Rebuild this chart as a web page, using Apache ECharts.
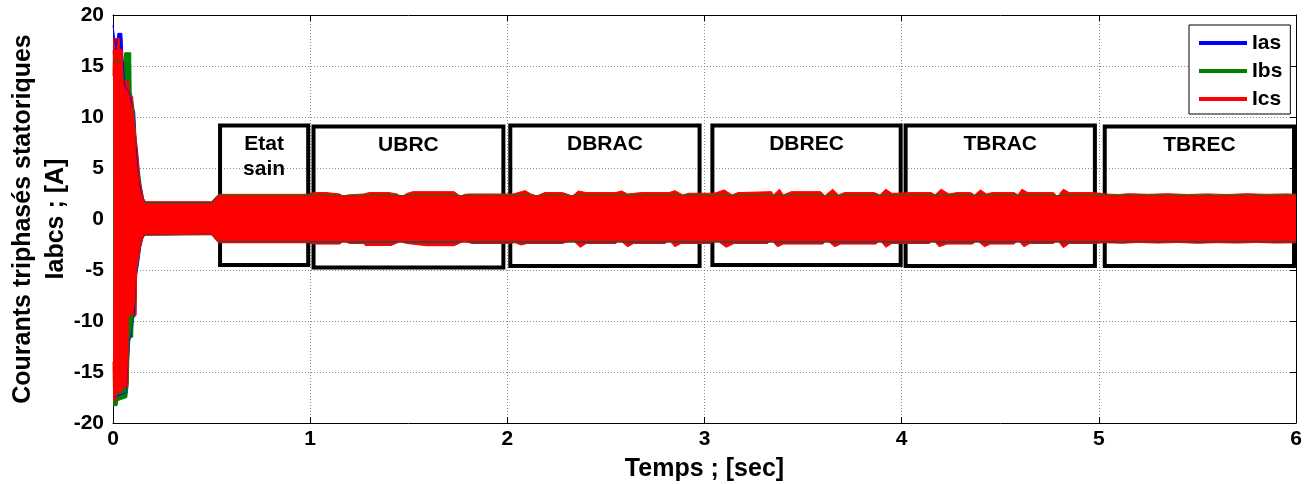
<!DOCTYPE html>
<html>
<head>
<meta charset="utf-8">
<script src="https://cdn.jsdelivr.net/npm/echarts@6/dist/echarts.min.js"></script>
<style>
  html, body { margin: 0; padding: 0; background: #fff; }
  #chart { width: 1315px; height: 484px; }
</style>
</head>
<body>
<div id="chart"></div>
<script>
// Stator phase currents: upper / lower envelopes of each phase, [time (s), current (A)]
const iasUpper = [[0, 19.0], [0.01, 19.0], [0.015, 16.6], [0.02, 16.6], [0.025, 18.2], [0.045, 18.2], [0.05, 16.0], [0.06, 13.0], [0.08, 12.5], [0.1, 11.0], [0.11, 10.5], [0.12, 6.5], [0.13, 4.5], [0.14, 3.0], [0.155, 1.9], [0.165, 1.6], [0.5, 1.6], [0.535, 2.3], [6.0, 2.3]];
const iasLower = [[0, -17.5], [0.07, -17.0], [0.075, -15.0], [0.085, -12.0], [0.1, -10.5], [0.115, -8.0], [0.12, -5.5], [0.13, -4.3], [0.14, -2.8], [0.15, -2.0], [0.16, -1.55], [0.5, -1.5], [0.535, -2.25], [6.0, -2.25]];

const ibsUpper = [[0, 16.5], [0.005, 15.5], [0.055, 15.5], [0.06, 16.3], [0.09, 16.3], [0.092, 12.5], [0.105, 11.0], [0.115, 8.0], [0.125, 6.5], [0.135, 4.5], [0.145, 3.0], [0.155, 2.0], [0.165, 1.6], [0.5, 1.6], [0.535, 2.3], [6.0, 2.3]];
const ibsLower = [[0, -18.3], [0.02, -18.3], [0.025, -17.8], [0.07, -17.5], [0.078, -16.0], [0.082, -11.6], [0.1, -11.6], [0.102, -9.7], [0.115, -9.5], [0.12, -5.0], [0.13, -4.0], [0.14, -2.6], [0.15, -1.9], [0.16, -1.55], [0.5, -1.5], [0.535, -2.25], [6.0, -2.25]];

const icsUpper = [[0, 14.0], [0.003, 17.7], [0.032, 17.7], [0.034, 16.6], [0.047, 16.6], [0.05, 13.5], [0.08, 13.5], [0.082, 12.0], [0.1, 12.0], [0.102, 10.4], [0.112, 10.4], [0.12, 7.5], [0.127, 6.0], [0.135, 3.8], [0.145, 3.0], [0.155, 2.0], [0.165, 1.7], [0.5, 1.7], [0.51, 1.65], [0.535, 2.42], [0.99, 2.42],
  [1.02, 2.59], [1.08, 2.59], [1.15, 2.45], [1.169, 2.19], [1.19, 2.36], [1.2, 2.45], [1.27, 2.45], [1.3, 2.59], [1.4, 2.59], [1.44, 2.45], [1.465, 2.19], [1.49, 2.5], [1.52, 2.68], [1.73, 2.68], [1.75, 2.4], [1.762, 2.19], [1.78, 2.4], [1.8, 2.45], [1.96, 2.45], [2.03, 2.45],
  [2.04, 2.52], [2.09, 2.78], [2.12, 2.45], [2.15, 2.26], [2.19, 2.59], [2.28, 2.59], [2.33, 2.26], [2.36, 2.75], [2.4, 2.59], [2.55, 2.59], [2.58, 2.75], [2.61, 2.45], [2.68, 2.59], [2.82, 2.59], [2.85, 2.78], [2.89, 2.36], [2.92, 2.52], [2.95, 2.52],
  [3.05, 2.52], [3.1, 2.85], [3.14, 2.36], [3.17, 2.59], [3.34, 2.68], [3.35, 2.36], [3.38, 2.92], [3.4, 2.36], [3.44, 2.68], [3.59, 2.68], [3.61, 2.26], [3.65, 2.92], [3.68, 2.36], [3.71, 2.59], [3.86, 2.59], [3.89, 2.36], [3.92, 2.92], [3.95, 2.52], [3.98, 2.52],
  [4.04, 2.59], [4.15, 2.59], [4.17, 2.36], [4.2, 2.92], [4.24, 2.45], [4.28, 2.59], [4.35, 2.59], [4.37, 2.36], [4.4, 2.85], [4.43, 2.45], [4.46, 2.59], [4.57, 2.59], [4.59, 2.36], [4.61, 2.92], [4.64, 2.59], [4.77, 2.59], [4.79, 2.19], [4.82, 2.92], [4.85, 2.59], [4.97, 2.59],
  [5.03, 2.45], [5.1, 2.4], [5.15, 2.48], [5.25, 2.42], [5.35, 2.48], [5.45, 2.4], [5.55, 2.46], [5.65, 2.4], [5.75, 2.48], [5.85, 2.42], [5.95, 2.46], [6.0, 2.42]];
const icsLower = [[0, -14.0], [0.003, -17.8], [0.015, -17.8], [0.018, -17.0], [0.045, -17.0], [0.048, -16.5], [0.075, -16.5], [0.078, -9.4], [0.117, -9.4], [0.12, -4.8], [0.13, -3.8], [0.14, -2.6], [0.15, -1.9], [0.16, -1.6], [0.5, -1.55], [0.51, -1.55], [0.535, -2.33], [0.99, -2.33],
  [1.02, -2.46], [1.15, -2.46], [1.169, -2.17], [1.2, -2.4], [1.27, -2.4], [1.28, -2.6], [1.41, -2.6], [1.456, -2.23], [1.49, -2.4], [1.59, -2.62], [1.73, -2.62], [1.78, -2.17], [1.82, -2.4], [2.0, -2.4],
  [2.04, -2.33], [2.07, -2.55], [2.1, -2.4], [2.28, -2.4], [2.33, -2.05], [2.37, -2.78], [2.4, -2.4], [2.55, -2.4], [2.57, -2.05], [2.61, -2.72], [2.64, -2.4], [2.8, -2.4], [2.82, -2.05], [2.85, -2.72], [2.88, -2.4], [3.03, -2.4], [3.06, -2.05], [3.11, -2.78], [3.15, -2.4],
  [3.32, -2.4], [3.34, -2.05], [3.37, -2.72], [3.4, -2.46], [3.6, -2.46], [3.62, -2.05], [3.66, -2.72], [3.69, -2.46], [3.87, -2.46], [3.89, -2.05], [3.92, -2.78], [3.95, -2.4],
  [4.14, -2.4], [4.16, -2.05], [4.19, -2.72], [4.23, -2.46], [4.36, -2.46], [4.38, -2.05], [4.42, -2.72], [4.45, -2.46], [4.57, -2.46], [4.59, -2.05], [4.62, -2.72], [4.65, -2.4], [4.77, -2.4], [4.79, -2.05], [4.82, -2.82], [4.85, -2.4], [4.97, -2.4],
  [5.03, -2.33], [5.12, -2.38], [5.2, -2.3], [5.3, -2.36], [5.4, -2.3], [5.5, -2.38], [5.6, -2.32], [5.7, -2.36], [5.8, -2.3], [5.9, -2.36], [6.0, -2.33]];

// Operating-condition boxes: time span, current span and caption
const boxLabels = ['Etat\nsain', 'UBRC', 'DBRAC', 'DBREC', 'TBRAC', 'TBREC'];
const boxStart = [0.543, 1.017, 2.015, 3.04, 4.02, 5.03];
const boxEnd = [0.99, 1.98, 2.975, 3.995, 4.98, 5.99];
const boxTop = [9.17, 9.07, 9.17, 9.17, 9.17, 9.07];
const boxBottom = [-4.52, -4.75, -4.6, -4.52, -4.6, -4.6];

const phaseNames = ['Ias', 'Ibs', 'Ics'];
const phaseColors = ['#0000ff', '#008000', '#ff0000'];
const xTicks = { min: 0, max: 6, interval: 1 };
const yTicks = { min: -20, max: 20, interval: 5 };

const FONT = '"Liberation Sans", Arial, sans-serif';
const envelopes = [[iasUpper, iasLower], [ibsUpper, ibsLower], [icsUpper, icsLower]];

const series = [];
envelopes.forEach(function (pair, k) {
  pair.forEach(function (data, j) {
    series.push({
      name: phaseNames[k],
      type: 'line',
      data: data,
      showSymbol: false,
      symbol: 'none',
      silent: true,
      sampling: null,
      smooth: false,
      lineStyle: { color: phaseColors[k], width: 1 },
      itemStyle: { color: phaseColors[k] },
      areaStyle: { color: phaseColors[k], opacity: 1, origin: j === 0 ? -0.3 : 0.3 },
      z: 2
    });
  });
});

series.push({
  name: 'zones',
  type: 'line',
  data: [],
  silent: true,
  z: 5,
  markArea: {
    silent: true,
    itemStyle: { color: 'rgba(0,0,0,0)', borderColor: '#000', borderWidth: 4 },
    label: {
      show: true,
      position: 'insideTop',
      distance: 8,
      color: '#000',
      fontFamily: FONT,
      fontWeight: 'bold',
      fontSize: 21,
      lineHeight: 25,
      align: 'center'
    },
    data: boxLabels.map(function (name, i) {
      return [
        { name: name, xAxis: boxStart[i], yAxis: boxTop[i] },
        { xAxis: boxEnd[i], yAxis: boxBottom[i] }
      ];
    })
  }
});

const chart = echarts.init(document.getElementById('chart'), null, { renderer: 'canvas' });
const tickLabel = { color: '#000', fontFamily: FONT, fontWeight: 'bold', fontSize: 21 };
const axisBlack = { show: true, onZero: false, lineStyle: { color: '#000', width: 1 } };

chart.setOption({
  animation: false,
  backgroundColor: '#fff',
  grid: { left: 113, right: 19, top: 15, bottom: 61, containLabel: false, outerBoundsMode: 'none' },
  legend: {
    data: phaseNames.map(function (n, i) { return { name: n, itemStyle: { color: phaseColors[i] } }; }),
    orient: 'vertical',
    left: 1189,
    top: 25,
    icon: 'rect',
    itemWidth: 48,
    itemHeight: 4,
    itemGap: 4,
    itemTextGap: 5,
    padding: [6, 8, 3, 10],
    borderColor: '#000',
    borderWidth: 1,
    backgroundColor: '#fff',
    selectedMode: false,
    textStyle: { color: '#000', fontFamily: FONT, fontWeight: 'bold', fontSize: 21, lineHeight: 24 }
  },
  xAxis: [{
    type: 'value',
    min: xTicks.min, max: xTicks.max, interval: xTicks.interval,
    axisLine: axisBlack,
    axisTick: { show: true, inside: true, length: 6, lineStyle: { color: '#000' } },
    axisLabel: Object.assign({ margin: 6 }, tickLabel),
    splitLine: { show: true, lineStyle: { color: '#8c8c8c', type: [1, 2], width: 1 } },
    name: 'Temps ; [sec]',
    nameLocation: 'middle',
    nameGap: 34,
    nameMoveOverlap: false,
    nameTextStyle: { color: '#000', fontFamily: FONT, fontWeight: 'bold', fontSize: 25 }
  }, {
    type: 'value',
    position: 'top',
    min: xTicks.min, max: xTicks.max, interval: xTicks.interval,
    axisLine: axisBlack,
    axisTick: { show: true, inside: true, length: 6, lineStyle: { color: '#000' } },
    axisLabel: { show: false },
    splitLine: { show: false }
  }],
  yAxis: [{
    type: 'value',
    min: yTicks.min, max: yTicks.max, interval: yTicks.interval,
    axisLine: axisBlack,
    axisTick: { show: true, inside: true, length: 6, lineStyle: { color: '#000' } },
    axisLabel: Object.assign({ margin: 9 }, tickLabel),
    splitLine: { show: true, lineStyle: { color: '#8c8c8c', type: [1, 2], width: 1 } },
    name: 'Courants triphasés statoriques\nIabcs ; [A]',
    nameLocation: 'middle',
    nameGap: 40,
    nameMoveOverlap: false,
    nameTextStyle: { color: '#000', fontFamily: FONT, fontWeight: 'bold', fontSize: 25, lineHeight: 33 }
  }, {
    type: 'value',
    position: 'right',
    min: yTicks.min, max: yTicks.max, interval: yTicks.interval,
    axisLine: axisBlack,
    axisTick: { show: true, inside: true, length: 6, lineStyle: { color: '#000' } },
    axisLabel: { show: false },
    splitLine: { show: false }
  }],
  series: series
});
</script>
</body>
</html>
